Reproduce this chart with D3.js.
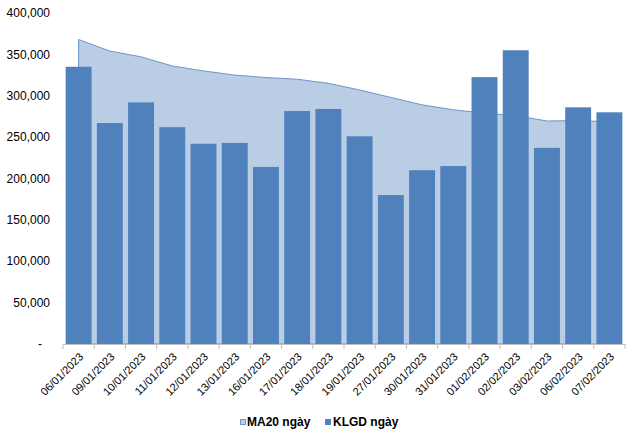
<!DOCTYPE html>
<html>
<head>
<meta charset="utf-8">
<script src="https://cdn.jsdelivr.net/npm/d3@7"></script>
<style>
  html, body { margin: 0; padding: 0; background: #fff; }
  svg { display: block; font-family: "Liberation Sans", Arial, sans-serif; }
</style>
</head>
<body>
<svg id="chart" width="635" height="436"></svg>
<script>
const categories = ["06/01/2023","09/01/2023","10/01/2023","11/01/2023","12/01/2023","13/01/2023","16/01/2023","17/01/2023","18/01/2023","19/01/2023","27/01/2023","30/01/2023","31/01/2023","01/02/2023","02/02/2023","03/02/2023","06/02/2023","07/02/2023"];
const klgd = [335000, 267000, 292000, 262000, 242000, 243000, 214000, 281500, 284000, 251000, 180000, 210000, 215000, 322500, 355000, 237000, 286000, 280000];
const ma20 = [368000, 354000, 347000, 336000, 330000, 325000, 322000, 320000, 315000, 307000, 298000, 289000, 283000, 279000, 276000, 269500, 270000, 268500];
const yTicks = [0, 50000, 100000, 150000, 200000, 250000, 300000, 350000, 400000];
const seriesNames = ["MA20 ngày", "KLGD ngày"];

const svg = d3.select("#chart");
const mLeft = 63, mRight = 625, mTop = 13, mBottom = 344;

const x = d3.scaleBand().domain(categories).range([mLeft, mRight]).paddingInner(0.17).paddingOuter(0.085);
const xc = d3.scaleBand().domain(categories).range([mLeft, mRight]);
const y = d3.scaleLinear().domain([0, 400000]).range([mBottom, mTop]);

// area (behind bars)
const area = d3.area()
  .x((d, i) => xc(categories[i]) + xc.bandwidth() / 2)
  .y0(y(0))
  .y1(d => y(d));
svg.append("path")
  .datum(ma20)
  .attr("d", area)
  .attr("fill", "#B9CDE5")
  .attr("stroke", "#6F95C9")
  .attr("stroke-width", 1);

// bars
svg.append("g").selectAll("rect")
  .data(klgd)
  .join("rect")
  .attr("x", (d, i) => x(categories[i]))
  .attr("width", x.bandwidth())
  .attr("y", d => y(d))
  .attr("height", d => y(0) - y(d))
  .attr("fill", "#4F81BD");

// y axis labels
const fmt = d3.format(",");
svg.append("g").selectAll("text")
  .data(yTicks)
  .join("text")
  .attr("x", d => d === 0 ? 42 : 50)
  .attr("y", d => y(d))
  .attr("dy", "0.35em")
  .attr("text-anchor", "end")
  .attr("font-size", 12)
  .attr("fill", "#000")
  .text(d => d === 0 ? "-" : fmt(d));

// x axis
const xAxis = d3.axisBottom(xc).tickSize(0).tickFormat(d => d);
const gx = svg.append("g").attr("transform", `translate(0,${mBottom})`).call(xAxis);
gx.select(".domain").attr("stroke", "#BFBFBF");
gx.selectAll(".tick text")
  .attr("font-size", 11)
  .attr("font-family", "Liberation Sans, Arial, sans-serif")
  .attr("fill", "#000")
  .attr("text-anchor", "end")
  .attr("transform", "translate(-3,5) rotate(-45)")
  .attr("dy", "0.35em")
  .attr("y", 8)
  .attr("x", 0);
// category boundary ticks
const bounds = categories.map(c => xc(c)).concat([mRight]);
svg.append("g").selectAll("line")
  .data(bounds)
  .join("line")
  .attr("x1", d => d).attr("x2", d => d)
  .attr("y1", mBottom).attr("y2", mBottom + 5)
  .attr("stroke", "#BFBFBF");

// legend
const legend = svg.append("g").attr("font-size", 12).attr("font-weight", "bold");
legend.append("rect").attr("x", 240.5).attr("y", 419.5).attr("width", 5).attr("height", 5)
  .attr("fill", "#B9CDE5").attr("stroke", "#6F95C9");
legend.append("text").attr("x", 247).attr("y", 426).text(seriesNames[0]);
legend.append("rect").attr("x", 325).attr("y", 419).attr("width", 6).attr("height", 6).attr("fill", "#4F81BD");
legend.append("text").attr("x", 333).attr("y", 426).text(seriesNames[1]);
</script>
</body>
</html>
